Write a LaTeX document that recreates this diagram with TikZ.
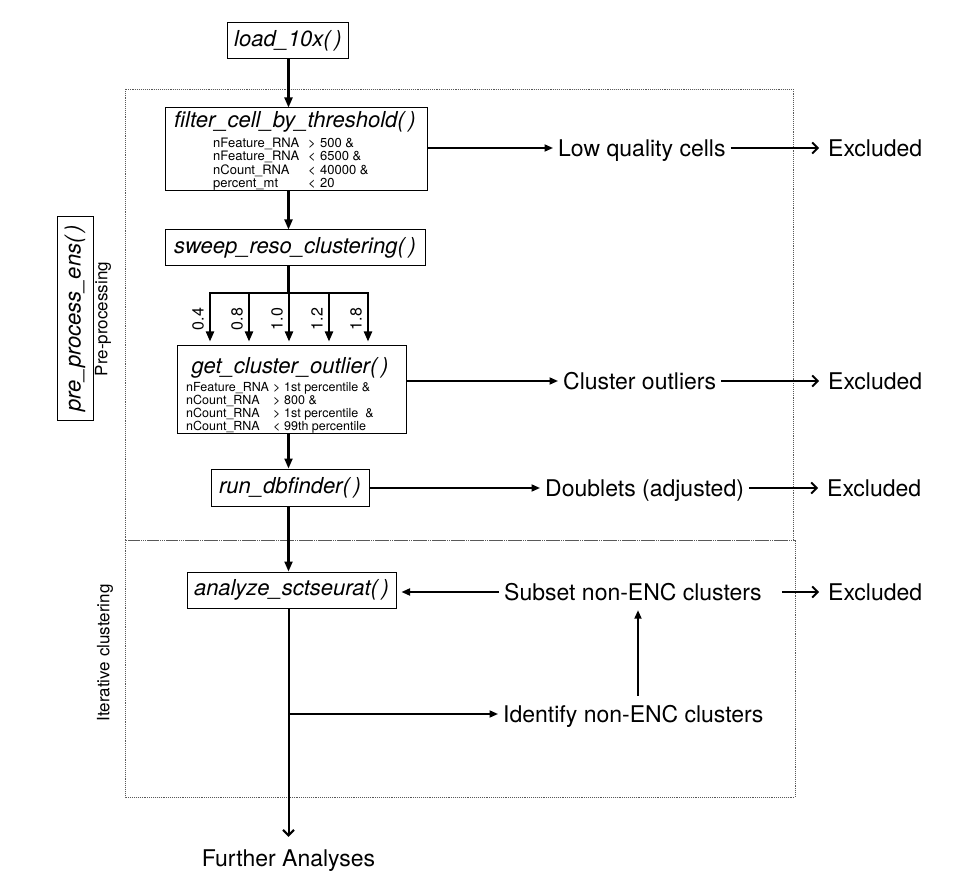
\documentclass[tikz,border=0pt]{standalone}
\usepackage{fontspec}
\setmainfont{TeX Gyre Heros}
\usetikzlibrary{arrows.meta,calc}
\begin{document}
\begin{tikzpicture}[x=1pt,y=-1pt,
 box/.style={draw, line width=1pt, inner sep=0pt},
 ttl/.style={font=\fontsize{22}{26}\selectfont\itshape},
 lab/.style={font=\fontsize{23}{27}\selectfont, inner xsep=5pt, inner ysep=0pt, text height=17pt, text depth=0pt},
 flow/.style={line width=2.1pt, -{Triangle[length=10pt,width=8pt]}},
 hflow/.style={line width=1.8pt, -{Triangle[length=8.5pt,width=7pt]}},
 excl/.style={line width=1.8pt, -{Straight Barb[length=5.5pt,width=11pt]}},
 region/.style={densely dotted, line width=0.9pt, draw=black!65},
 vlab/.style={rotate=90, font=\fontsize{17}{20}\selectfont, inner sep=0pt},
 num/.style={rotate=90, font=\fontsize{16}{18}\selectfont, inner sep=0pt},
 cond/.style={anchor=north west, inner sep=0pt}
]
\useasboundingbox (0,0) rectangle (978,896);
\fill[white] (0,0) rectangle (978,896);

% regions
\draw[region] (125,89) rectangle (793,540);
\draw[region] (125,540) rectangle (795,797);

\coordinate (axis) at (288.5,0);

% main boxes
\node[box, ttl, minimum width=121pt, minimum height=36pt] (load) at (288,41) {load\_10x(\,)};

\node[box, minimum width=262pt, minimum height=83pt] (filt) at (296,149.5) {};
\node[ttl, inner sep=0pt] (filtt) at (295,122) {filter\_cell\_by\_threshold(\,)};
\node[cond, font=\fontsize{13}{13.3}\selectfont] (filtc) at (213,137.5) {%
\begin{tabular}{@{}p{95pt}@{}p{12pt}@{}l@{}}
nFeature\_RNA & > & 500 \&\\
nFeature\_RNA & < & 6500 \&\\
nCount\_RNA & < & 40000 \&\\
percent\_mt & < & 20
\end{tabular}};

\node[box, ttl, minimum width=260pt, minimum height=36pt] (sw) at (295,248) {sweep\_reso\_clustering(\,)};

\node[box, minimum width=229pt, minimum height=88pt] (co) at (291.5,389) {};
\node[ttl, inner sep=0pt] (cot) at (290,368) {get\_cluster\_outlier(\,)};
\node[cond, font=\fontsize{12.5}{12}\selectfont] (coc) at (186,382) {%
\begin{tabular}{@{}p{87pt}@{}p{11pt}@{}l@{}}
nFeature\_RNA & > & 1st percentile \&\\
nCount\_RNA & > & 800 \&\\
nCount\_RNA & > & 1st percentile~~\&\\
nCount\_RNA & < & 99th percentile
\end{tabular}};

\node[box, ttl, minimum width=158pt, minimum height=37pt] (run) at (290,487.5) {run\_dbfinder(\,)};
\node[box, ttl, minimum width=209pt, minimum height=36pt] (an) at (291.5,590) {analyze\_sctseurat(\,)};

\node[box, ttl, rotate=90, minimum width=203pt, minimum height=36pt] (ppe) at (75,318.5) {pre\_process\_ens(\,)};
\node[vlab] (pp) at (103,319) {Pre-processing};
\node[vlab] (ic) at (105,653) {Iterative clustering};

% right-hand labels
\node[lab, anchor=west] (lq) at (553,148) {Low quality cells};
\node[lab, anchor=west] (ex1) at (823,148) {Excluded};
\node[lab, anchor=west] (cl) at (558,381) {Cluster outliers};
\node[lab, anchor=west] (ex2) at (823,381) {Excluded};
\node[lab, anchor=west] (dbl) at (540,488) {Doublets (adjusted)};
\node[lab, anchor=west] (ex3) at (822,488) {Excluded};
\node[lab, anchor=west] (sub) at (499,592) {Subset non-ENC clusters};
\node[lab, anchor=west] (ex4) at (823,592) {Excluded};
\node[lab, anchor=west] (idn) at (498,714) {Identify non-ENC clusters};
\node[lab] (fa) at (288.5,858) {Further Analyses};

% main flow
\draw[flow] (load.south -| axis) -- (filt.north -| axis);
\draw[flow] (filt.south -| axis) -- (sw.north -| axis);

% resolution sweep
\coordinate (j) at (288.5,293);
\draw[line width=2.1pt] (sw.south -| j) -- (j);
\foreach \n/\x/\l in {1/210/0.4, 2/249/0.8, 3/289/1.0, 4/329/1.2, 5/368/1.8}{
  \coordinate (b\n) at (\x,293);
  \draw[flow, shorten >=3pt] (b\n) -- (b\n |- co.north);
  \node[num] (r\n) at (\x-12,319) {\l};
}
\draw[line width=2.1pt, line cap=rect] (b1) -- (b5);

\draw[flow] (co.south -| axis) -- (run.north -| axis);
\draw[flow] (run.south -| axis) -- (an.north -| axis);
\draw[excl, line width=2pt, shorten >=12.5pt] (an.south -| axis) -- (fa.north);

\coordinate (br) at (axis |- idn);
\draw[hflow] (br) -- (idn.west);

% side branches
\draw[hflow] (filt.east |- lq) -- (lq.west);
\draw[excl, shorten >=4pt] (lq.east) -- (ex1.west);
\draw[hflow] (co.east |- cl) -- (cl.west);
\draw[excl, shorten >=4pt] (cl.east) -- (ex2.west);
\draw[hflow] (run.east |- dbl) -- (dbl.west);
\draw[excl, shorten >=4pt] (dbl.east) -- (ex3.west);
\draw[hflow, shorten >=5pt] (sub.west) -- (an.east |- sub);
\draw[excl, shorten <=15pt, shorten >=4pt] (sub.east) -- (ex4.west);

\coordinate (vx) at (638,0);
\draw[hflow, shorten <=9.5pt, shorten >=9.5pt] (idn.north -| vx) -- (sub.south -| vx);
\end{tikzpicture}
\end{document}
